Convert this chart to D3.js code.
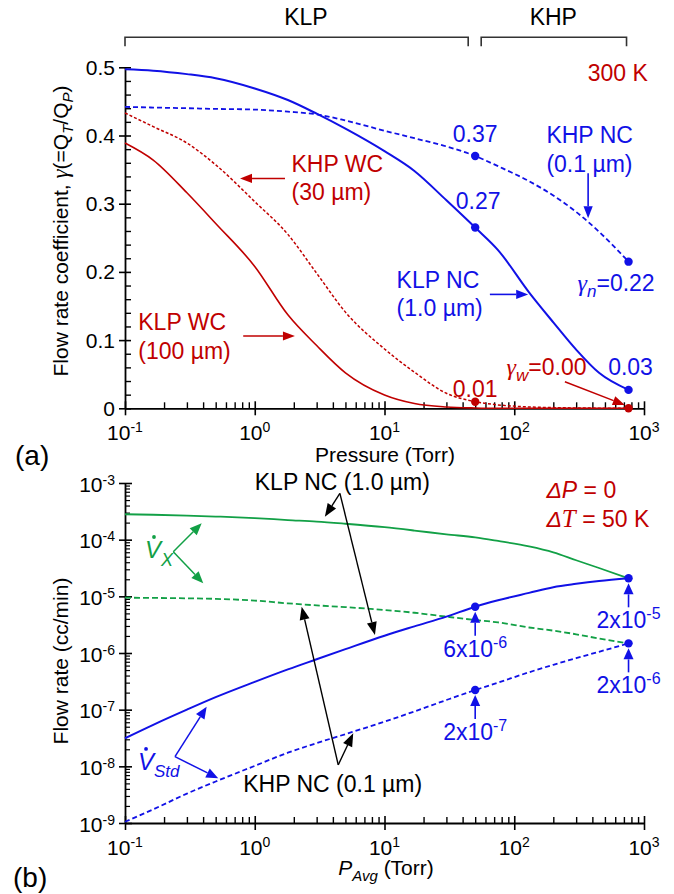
<!DOCTYPE html>
<html><head><meta charset="utf-8">
<script src="https://cdn.jsdelivr.net/npm/d3@7"></script>
<style>
body{margin:0;background:#fff;}
svg text{font-family:"Liberation Sans",Arial,sans-serif;}
</style></head><body>
<svg id="c" width="674" height="894"></svg>
<script>
// ---------------- data ----------------
const pressure = [0.1, 0.165, 0.3, 0.5, 1, 1.8, 3, 5, 10, 17, 30, 50, 75, 130, 200, 300, 450, 760];
// panel (a): flow rate coefficient gamma
const gammaKlpNc = [0.497,0.495,0.490,0.484,0.469,0.452,0.432,0.410,0.377,0.348,0.305,0.265,0.232,0.170,0.126,0.086,0.052,0.027];
const gammaKhpNc = [0.442,0.441,0.440,0.439,0.438,0.435,0.431,0.422,0.407,0.396,0.384,0.370,0.355,0.333,0.312,0.288,0.259,0.215];
const gammaKhpWc = [0.433,0.413,0.389,0.357,0.303,0.255,0.198,0.141,0.087,0.053,0.022,0.0097,0.005,0.002,0.001,0.0005,0.0002,0];
const gammaKlpWc = [0.389,0.364,0.316,0.271,0.208,0.137,0.092,0.052,0.0195,0.007,0.002,0.0005,0,0,0,0,0,0];
// panel (b): flow rates (cc/min)
const flowXKlpNc   = [2.81e-4,2.75e-4,2.66e-4,2.56e-4,2.40e-4,2.22e-4,2.09e-4,1.91e-4,1.66e-4,1.45e-4,1.24e-4,1.10e-4,9.5e-5,7.6e-5,5.97e-5,4.33e-5,3.16e-5,2.08e-5];
const flowXKhpNc   = [9.46e-6,9.38e-6,9.23e-6,9.02e-6,8.41e-6,7.52e-6,6.92e-6,6.46e-6,5.74e-6,5.13e-6,4.38e-6,3.82e-6,3.47e-6,2.82e-6,2.48e-6,2.14e-6,1.80e-6,1.48e-6];
const flowStdKlpNc = [3.13e-8,5.4e-8,1.0e-7,1.66e-7,3.09e-7,5.13e-7,7.76e-7,1.17e-6,2.02e-6,2.95e-6,4.38e-6,6.56e-6,8.5e-6,1.15e-5,1.45e-5,1.66e-5,1.86e-5,2.08e-5];
const flowStdKhpNc = [1.05e-9,1.74e-9,3.3e-9,5.4e-9,1.02e-8,1.74e-8,2.57e-8,3.7e-8,6.14e-8,9.3e-8,1.48e-7,2.22e-7,3.0e-7,4.57e-7,6.2e-7,8.1e-7,1.05e-6,1.48e-6];
// tick values / labels
const xMajors = [0.1, 1, 10, 100, 1000];
const xExponents = ["-1", "0", "1", "2", "3"];
const gammaTicks = [0, 0.1, 0.2, 0.3, 0.4, 0.5];
const gammaTickLabels = ["0", "0.1", "0.2", "0.3", "0.4", "0.5"];
const flowTicks = [1e-9, 1e-8, 1e-7, 1e-6, 1e-5, 1e-4, 1e-3];
const flowExponents = ["-9", "-8", "-7", "-6", "-5", "-4", "-3"];
const markerPressures = [50, 760];

// ---------------- setup ----------------
const BLUE = "#1111e6", RED = "#c00000", GREEN = "#12a046", BLACK = "#000";
const svg = d3.select("#c");
const xA = d3.scaleLog().domain([0.1, 1000]).range([125, 644]);
const yA = d3.scaleLinear().domain([0, 0.5]).range([408.3, 67.3]);
const xB = d3.scaleLog().domain([0.1, 1000]).range([125, 644]);
const yB = d3.scaleLog().domain([1e-9, 1e-3]).range([823, 483]);

function logMinors(lo, hi) { const o = []; for (let e = lo; e < hi; e++) for (let k = 2; k <= 9; k++) o.push(k * Math.pow(10, e)); return o; }
function styleAxis(g, w) { g.selectAll("line").attr("stroke", BLACK).attr("stroke-width", w); g.selectAll(".domain").attr("stroke", BLACK).attr("stroke-width", 1.8); g.selectAll("text").remove(); }

function drawXAxis(x, y0, labelY) {
  const g1 = svg.append("g").attr("transform", `translate(0,${y0})`)
    .call(d3.axisBottom(x).tickValues(xMajors).tickSizeInner(7).tickSizeOuter(0).tickFormat(""));
  styleAxis(g1, 1.6);
  const g2 = svg.append("g").attr("transform", `translate(0,${y0})`)
    .call(d3.axisBottom(x).tickValues(xMajors).tickSize(-7).tickFormat(""));
  g2.select(".domain").remove(); styleAxis(g2, 1.6);
  const g3 = svg.append("g").attr("transform", `translate(0,${y0})`)
    .call(d3.axisBottom(x).tickValues(logMinors(-1, 3)).tickSize(-6).tickFormat(""));
  g3.select(".domain").remove(); styleAxis(g3, 1.4);
  xMajors.forEach((v, i) => {
    const t = svg.append("text").attr("x", x(v)).attr("y", labelY).attr("text-anchor", "middle").attr("font-size", 21);
    t.append("tspan").text("10");
    t.append("tspan").attr("dy", -8).attr("font-size", 14).text(xExponents[i]);
  });
}

function drawYAxisA() {
  const g1 = svg.append("g").attr("transform", "translate(125,0)")
    .call(d3.axisLeft(yA).tickValues(gammaTicks).tickSizeInner(6).tickSizeOuter(0).tickFormat(""));
  styleAxis(g1, 1.6);
  const g2 = svg.append("g").attr("transform", "translate(125,0)")
    .call(d3.axisLeft(yA).tickValues(gammaTicks).tickSize(-6).tickFormat(""));
  g2.select(".domain").remove(); styleAxis(g2, 1.6);
  const minors = d3.range(0.02, 0.5, 0.02).filter(v => Math.abs(v * 10 - Math.round(v * 10)) > 1e-6);
  const g3 = svg.append("g").attr("transform", "translate(125,0)")
    .call(d3.axisLeft(yA).tickValues(minors).tickSize(-6).tickFormat(""));
  g3.select(".domain").remove(); styleAxis(g3, 1.4);
  gammaTicks.forEach((v, i) => {
    svg.append("text").attr("x", 115).attr("y", yA(v) + 7.5).attr("text-anchor", "end").attr("font-size", 21).text(gammaTickLabels[i]);
  });
}

function drawYAxisB() {
  const g1 = svg.append("g").attr("transform", "translate(125,0)")
    .call(d3.axisLeft(yB).tickValues(flowTicks).tickSizeInner(6).tickSizeOuter(0).tickFormat(""));
  styleAxis(g1, 1.6);
  const g2 = svg.append("g").attr("transform", "translate(125,0)")
    .call(d3.axisLeft(yB).tickValues(flowTicks).tickSize(-7).tickFormat(""));
  g2.select(".domain").remove(); styleAxis(g2, 1.6);
  const g3 = svg.append("g").attr("transform", "translate(125,0)")
    .call(d3.axisLeft(yB).tickValues(logMinors(-9, -3)).tickSize(-5).tickFormat(""));
  g3.select(".domain").remove(); styleAxis(g3, 1.2);
  flowTicks.forEach((v, i) => {
    const t = svg.append("text").attr("x", 115).attr("y", yB(v) + 8.5).attr("text-anchor", "end").attr("font-size", 21);
    t.append("tspan").text("10");
    t.append("tspan").attr("dy", -7).attr("font-size", 14).text(flowExponents[i]);
  });
}

function drawLine(x, y, vals, color, width, dash) {
  const pts = pressure.map((p, i) => [p, vals[i]]);
  svg.append("path").datum(pts)
    .attr("d", d3.line().x(d => x(d[0])).y(d => y(d[1])).curve(d3.curveMonotoneX))
    .attr("fill", "none").attr("stroke", color).attr("stroke-width", width)
    .attr("stroke-dasharray", dash || null);
}
function valAt(vals, p) { return vals[pressure.indexOf(p)]; }
function dot(x, y, vals, p, color) { svg.append("circle").attr("cx", x(p)).attr("cy", y(valAt(vals, p))).attr("r", 4.2).attr("fill", color); }

function arrow(x1, y1, x2, y2, color, w = 1.5, hl = 12, hw = 4.6) {
  const a = Math.atan2(y2 - y1, x2 - x1);
  const bx = x2 - hl * Math.cos(a), by = y2 - hl * Math.sin(a);
  svg.append("line").attr("x1", x1).attr("y1", y1).attr("x2", bx).attr("y2", by).attr("stroke", color).attr("stroke-width", w);
  svg.append("path").attr("d", `M${x2},${y2}L${bx + hw * Math.sin(a)},${by - hw * Math.cos(a)}L${bx - hw * Math.sin(a)},${by + hw * Math.cos(a)}Z`).attr("fill", color);
}
function label(x, y, lines, color, size = 23, anchor = "start", lh = 28.5) {
  lines.forEach((s, i) => svg.append("text").attr("x", x).attr("y", y + i * lh).attr("text-anchor", anchor).attr("font-size", size).attr("fill", color).text(s));
}
function powText(x, y, mant, exp, color, anchor = "middle") {
  const t = svg.append("text").attr("x", x).attr("y", y).attr("text-anchor", anchor).attr("font-size", 23).attr("fill", color);
  t.append("tspan").text(mant + "x10");
  t.append("tspan").attr("dy", -9).attr("font-size", 16).text(exp);
}

// ================= PANEL (a) =================
// header brackets
const brY = yA(0.544), brT = yA(0.531);
svg.append("path").attr("d", `M${xA(0.1)},${brT}V${brY}H${xA(50) - 7}V${brT}`).attr("fill", "none").attr("stroke", "#333").attr("stroke-width", 1.6);
svg.append("path").attr("d", `M${xA(50) + 6},${brT}V${brY}H${xA(760) - 2}V${brT}`).attr("fill", "none").attr("stroke", "#333").attr("stroke-width", 1.6);
label(xA(2.48), 25, ["KLP"], BLACK, 23, "middle");
label(xA(200), 25, ["KHP"], BLACK, 23, "middle");
label(xA(1069), 81, ["300 K"], RED, 23, "end");

drawXAxis(xA, yA(0), 440);
drawYAxisA();

drawLine(xA, yA, gammaKlpWc, RED, 1.6);
drawLine(xA, yA, gammaKhpWc, RED, 1.5, "3,2");
drawLine(xA, yA, gammaKhpNc, BLUE, 1.8, "5,3");
drawLine(xA, yA, gammaKlpNc, BLUE, 2);

markerPressures.forEach(p => { dot(xA, yA, gammaKlpNc, p, BLUE); dot(xA, yA, gammaKhpNc, p, BLUE); });
dot(xA, yA, gammaKhpWc, 50, RED);
dot(xA, yA, gammaKlpWc, 760, RED);

// value labels at markers
label(xA(50), yA(valAt(gammaKhpNc, 50)) - 14, ["0.37"], BLUE, 23, "middle");
label(xA(50) + 3, yA(valAt(gammaKlpNc, 50)) - 19, ["0.27"], BLUE, 23, "middle");
label(xA(760) + 2, yA(valAt(gammaKlpNc, 760)) - 15, ["0.03"], BLUE, 23, "middle");
label(xA(50), yA(valAt(gammaKhpWc, 50)) - 5, ["0.01"], RED, 23, "middle");
{ // gamma_n = 0.22
  const t = svg.append("text").attr("x", xA(760) - 51).attr("y", yA(valAt(gammaKhpNc, 760)) + 29).attr("font-size", 23).attr("fill", BLUE);
  t.append("tspan").attr("font-family", "Liberation Serif").attr("font-style", "italic").attr("font-size", 24).text("γ");
  t.append("tspan").attr("font-style", "italic").attr("font-size", 17).attr("dy", 6).text("n");
  t.append("tspan").attr("dy", -6).text("=0.22");
}
{ // gamma_w = 0.00
  const t = svg.append("text").attr("x", xA(87.3)).attr("y", yA(0.0488)).attr("font-size", 23).attr("fill", RED);
  t.append("tspan").attr("font-family", "Liberation Serif").attr("font-style", "italic").attr("font-size", 24).text("γ");
  t.append("tspan").attr("font-style", "italic").attr("font-size", 17).attr("dy", 6).text("w");
  t.append("tspan").attr("dy", -6).text("=0.00");
  arrow(xA(245.6), yA(0.039), xA(711), yA(0.0049), RED, 1.5);
}
// series labels
label(xA(1.92), yA(0.347), ["KHP WC", "(30 µm)"], RED);
arrow(xA(1.71), yA(0.337), xA(0.77), yA(0.337), RED, 1.6);
label(xA(0.1266), yA(0.1148), ["KLP WC", "(100 µm)"], RED);
arrow(xA(0.815), yA(0.106), xA(2.04), yA(0.106), RED, 1.6);
label(xA(177), yA(0.3886), ["KHP NC", "(0.1 µm)"], BLUE);
arrow(xA(371), yA(0.3446), xA(371), yA(0.2786), BLUE, 1.6);
label(xA(12.4), yA(0.1764), ["KLP NC", "(1.0 µm)"], BLUE);
arrow(xA(64.9), yA(0.167), xA(128), yA(0.167), BLUE, 1.6);

// axis titles
svg.append("text").attr("x", 385).attr("y", 462).attr("text-anchor", "middle").attr("font-size", 21).text("Pressure (Torr)");
{
  const t = svg.append("text").attr("transform", "translate(68,231) rotate(-90)").attr("text-anchor", "middle").attr("font-size", 21);
  t.append("tspan").text("Flow rate coefficient, ");
  t.append("tspan").attr("font-family", "Liberation Serif").attr("font-style", "italic").attr("font-size", 23).text("γ");
  t.append("tspan").text("(=Q");
  t.append("tspan").attr("font-style", "italic").attr("font-size", 15).attr("dy", 5).text("T");
  t.append("tspan").attr("dy", -5).text("/Q");
  t.append("tspan").attr("font-style", "italic").attr("font-size", 15).attr("dy", 5).text("P");
  t.append("tspan").attr("dy", -5).text(")");
}
svg.append("text").attr("x", 15).attr("y", 465).attr("font-family", "Liberation Serif").attr("font-size", 28).text("(a)");

// ================= PANEL (b) =================
drawXAxis(xB, yB(1e-9), 855);
drawYAxisB();

drawLine(xB, yB, flowXKlpNc, GREEN, 1.8);
drawLine(xB, yB, flowXKhpNc, GREEN, 1.8, "6,3");
drawLine(xB, yB, flowStdKhpNc, BLUE, 1.8, "5,3");
drawLine(xB, yB, flowStdKlpNc, BLUE, 2);

markerPressures.forEach(p => { dot(xB, yB, flowStdKlpNc, p, BLUE); dot(xB, yB, flowStdKhpNc, p, BLUE); });

// value labels with upward arrows
[[flowStdKlpNc, 50, "6", "-6"], [flowStdKhpNc, 50, "2", "-7"], [flowStdKlpNc, 760, "2", "-5"], [flowStdKhpNc, 760, "2", "-6"]].forEach(([vals, p, m, e]) => {
  const cx = xB(p), cy = yB(valAt(vals, p));
  arrow(cx, cy + 29, cx, cy + 5, BLUE, 1.6, 11, 5);
  powText(cx, cy + 50, m, e, BLUE);
});

// KLP NC (1.0 µm) black double arrow
label(xB(1.0), yB(7.52e-4), ["KLP NC (1.0 µm)"], BLACK);
arrow(xB(4.53), yB(6.58e-4), xB(3.47), yB(2.54e-4), BLACK, 1.4, 13, 5);
arrow(xB(4.53), yB(6.58e-4), xB(8.44), yB(2.08e-6), BLACK, 1.4, 13, 5);
// KHP NC (0.1 µm)
label(xB(0.815), yB(3.57e-9), ["KHP NC (0.1 µm)"], BLACK);
arrow(xB(4.40), yB(1.06e-8), xB(2.30), yB(6.56e-6), BLACK, 1.4, 13, 5);
arrow(xB(4.40), yB(1.06e-8), xB(5.74), yB(3.83e-8), BLACK, 1.4, 13, 5);

// V-dot X (green)
{
  const x0 = xB(0.1426), y0 = yB(4.75e-5);
  const t = svg.append("text").attr("x", x0).attr("y", y0).attr("font-size", 24).attr("fill", GREEN).attr("font-style", "italic");
  t.append("tspan").text("V");
  t.append("tspan").attr("font-size", 18).attr("dy", 8).text("X");
  svg.append("circle").attr("cx", x0 + 9).attr("cy", y0 - 21).attr("r", 1.9).attr("fill", GREEN);
  arrow(xB(0.2355), yB(6.13e-5), xB(0.39), yB(1.95e-4), GREEN, 1.5, 12, 5);
  arrow(xB(0.2355), yB(6.13e-5), xB(0.401), yB(1.7e-5), GREEN, 1.5, 12, 5);
}
// V-dot Std (blue)
{
  const x0 = xB(0.126), y0 = yB(8.63e-9);
  const t = svg.append("text").attr("x", x0).attr("y", y0).attr("font-size", 24).attr("fill", BLUE).attr("font-style", "italic");
  t.append("tspan").text("V");
  t.append("tspan").attr("font-size", 17).attr("dy", 7).text("Std");
  svg.append("circle").attr("cx", x0 + 8).attr("cy", y0 - 21).attr("r", 1.9).attr("fill", BLUE);
  arrow(xB(0.2427), yB(1.48e-8), xB(0.426), yB(1.13e-7), BLUE, 1.5, 12, 5);
  arrow(xB(0.2427), yB(1.48e-8), xB(0.523), yB(6.15e-9), BLUE, 1.5, 12, 5);
}
// Delta P / Delta T
{
  const t1 = svg.append("text").attr("x", xB(177)).attr("y", yB(5.43e-4)).attr("font-size", 23).attr("fill", RED);
  t1.append("tspan").attr("font-style", "italic").text("ΔP");
  t1.append("tspan").text(" = 0");
  const t2 = svg.append("text").attr("x", xB(177)).attr("y", yB(1.67e-4)).attr("font-size", 23).attr("fill", RED);
  t2.append("tspan").attr("font-style", "italic").text("Δ");
  t2.append("tspan").attr("font-style", "italic").attr("font-family", "Liberation Serif").attr("font-size", 25).text("T");
  t2.append("tspan").text(" = 50 K");
}

// axis titles
{
  const t = svg.append("text").attr("x", 386).attr("y", 875).attr("text-anchor", "middle").attr("font-size", 21);
  t.append("tspan").attr("font-style", "italic").text("P");
  t.append("tspan").attr("font-style", "italic").attr("font-size", 15).attr("dy", 6).text("Avg");
  t.append("tspan").attr("dy", -6).text(" (Torr)");
}
svg.append("text").attr("transform", "translate(68,661) rotate(-90)").attr("text-anchor", "middle").attr("font-size", 21).text("Flow rate (cc/min)");
svg.append("text").attr("x", 13).attr("y", 887).attr("font-family", "Liberation Serif").attr("font-size", 28).text("(b)");
</script>
</body></html>
